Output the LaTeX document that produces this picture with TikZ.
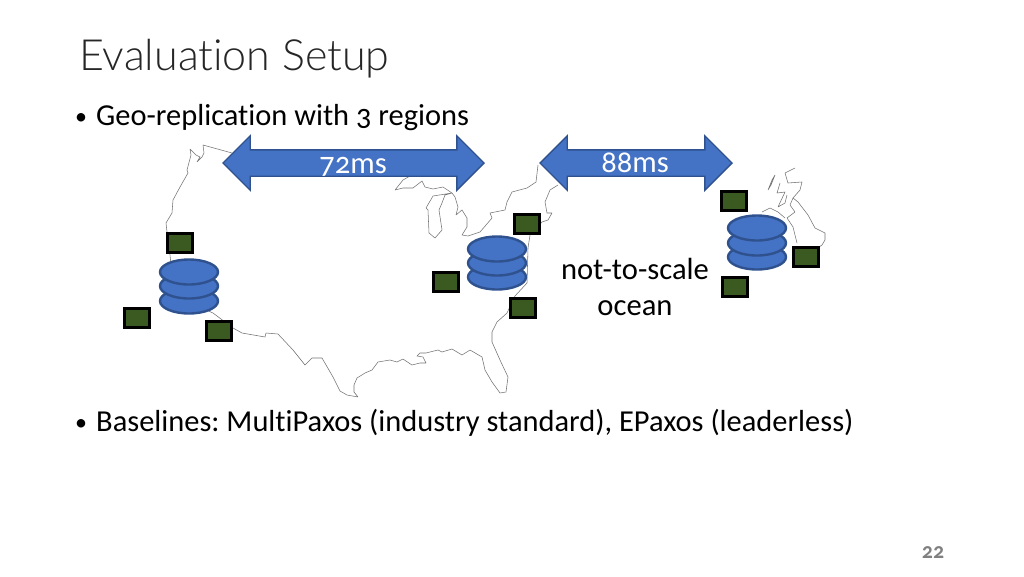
\documentclass[tikz,border=0pt]{standalone}
\usepackage{fontspec}
\setmainfont[Numbers=OldStyle,Ligatures=NoCommon]{Carlito}
\newfontfamily\titlefont[Ligatures=NoCommon]{Lato Light}
\frenchspacing
\usetikzlibrary{ % tikz packages
    positioning,
    shapes.geometric,shapes.arrows
}
\definecolor{diskBlue}{HTML}{4472C4}
\definecolor{diskEdge}{HTML}{2F528F}
\definecolor{hostGreen}{HTML}{3B5A22}
\tikzset{
    disk/.style={draw=diskEdge,fill=diskBlue,line width=2.4pt,ellipse,inner sep=0pt,minimum width=58pt,minimum height=25pt},
    host/.style={draw=black,fill=hostGreen,line width=3.2pt,inner sep=0pt,minimum width=25pt,minimum height=19pt},
    latency/.style={draw=diskEdge,fill=diskBlue,line width=1.4pt,double arrow,double arrow head extend=14pt,double arrow tip angle=90,inner sep=0pt,text height=25pt,text depth=0pt,minimum width=54pt},
    coast/.style={draw=black!55,line width=0.55pt,line join=round},
    body/.style={anchor=base west,inner sep=0pt,font=\fontsize{30.45}{36}\selectfont,text=black},
    speech/.style={anchor=base,inner sep=0pt,font=\fontsize{30.6}{36}\selectfont}
}

\begin{document}
\begin{tikzpicture}[x=1pt,y=-1pt]
        \useasboundingbox (0,0) rectangle (1024,576);

        \node[anchor=base west,inner sep=0pt,text=black!85,font=\fontsize{43}{52}\titlefont] (title) at (79,70) {Evaluation Setup};
        \node[body,font=\fontsize{24}{30}\selectfont] (bulletA) at (75,124) {\textbullet};
        \node[body] (geo) at (96,125) {Geo-replication with 3 regions};
        \node[body,font=\fontsize{24}{30}\selectfont] (bulletB) at (75,430) {\textbullet};
        \node[body] (base) at (96,431) {Baselines: MultiPaxos (industry standard), EPaxos (leaderless)};
        \node[anchor=base,inner sep=0pt,text=black!50,font=\fontsize{22}{26}\selectfont\bfseries] (page) at (933,558) {22};

        % mainland
        \draw[coast] (232,153) -- (203,145) -- (204,153) -- (202,157) -- (197,162) -- (200,157) -- (196,155) -- (190,149)
            -- (191,155) -- (187,170) -- (188,173) -- (180,187) -- (173,200) -- (172,213) -- (166,223) -- (167,232)
            -- (170,255) -- (172,275) -- (195,305) -- (213,313) -- (233,328) -- (242,333) -- (265,337) -- (266,333)
            -- (278,334) -- (293,350) -- (305,365) -- (312,358) -- (322,358) -- (333,377) -- (340,391) -- (347,395)
            -- (358,397) -- (354,392) -- (354,385) -- (357,378) -- (365,373) -- (372,370) -- (378,362) -- (390,360)
            -- (397,362) -- (403,359) -- (412,365) -- (420,363) -- (426,363) -- (423,357) -- (417,356) -- (420,353)
            -- (426,353) -- (438,350) -- (442,352) -- (452,349) -- (462,355) -- (470,350) -- (482,357) -- (485,370)
            -- (492,382) -- (500,393) -- (506,392) -- (508,377) -- (500,360) -- (492,342) -- (492,332) -- (497,322)
            -- (507,313) -- (515,296) -- (527,283) -- (528,248) -- (530,235) -- (542,222) -- (548,220) -- (552,213)
            -- (547,213) -- (545,202) -- (550,190) -- (558,185);
        % lakes and northern border
        \draw[coast] (410,176) -- (403,180) -- (395,190) -- (403,188) -- (413,188) -- (422,181) -- (425,187) -- (433,189)
            -- (443,187) -- (452,193) -- (445,195) -- (442,203) -- (439,210) -- (442,230) -- (435,238) -- (429,233)
            -- (428,210) -- (426,208) -- (433,196) -- (452,193) -- (455,197) -- (458,207) -- (456,215) -- (462,210)
            -- (467,218) -- (467,227) -- (462,235) -- (468,236) -- (480,232) -- (492,218) -- (490,213) -- (505,210)
            -- (507,202) -- (512,192) -- (527,188) -- (536,182) -- (538,165);
        % britain and ireland
        \draw[coast] (795,168) -- (785,173) -- (788,183) -- (802,182) -- (800,190) -- (793,198) -- (798,202) -- (808,215)
            -- (815,228) -- (825,233) -- (825,240) -- (822,245) -- (815,250);
        \draw[coast] (793,198) -- (790,205) -- (795,212) -- (787,218) -- (793,227) -- (797,243);
        \draw[coast] (762,212) -- (770,208) -- (778,212) -- (785,218);
        \draw[coast] (768,190) -- (772,180) -- (775,175) -- (771,185) -- (768,190);
        \draw[coast] (780,183) -- (777,193) -- (785,192) -- (778,207) -- (785,203) -- (787,195);

        \node[latency,minimum height=261pt] (usArrow) at (353.5,163) {};
        \node[latency,minimum height=192pt] (ukArrow) at (636,163) {};
        \node[speech,text=white] (usLatency) at (353,173) {72ms};
        \node[speech,text=white] (ukLatency) at (635,172) {88ms};

        \node[disk] (west3) at (189,301) {};
        \node[disk] (west2) at (189,286) {};
        \node[disk] (west1) at (189,272) {};
        \node[disk] (east3) at (497,277) {};
        \node[disk] (east2) at (497,263) {};
        \node[disk] (east1) at (497,249) {};
        \node[disk] (ukDb3) at (757,257) {};
        \node[disk] (ukDb2) at (757,243) {};
        \node[disk] (ukDb1) at (757,228) {};

        \node[host] (westA) at (180,243) {};
        \node[host] (westB) at (137,318) {};
        \node[host] (westC) at (219,331) {};
        \node[host] (eastA) at (527,224) {};
        \node[host] (eastB) at (446,282) {};
        \node[host] (eastC) at (523,308) {};
        \node[host] (ukA) at (734,201) {};
        \node[host] (ukB) at (806,257) {};
        \node[host] (ukC) at (735,287) {};

        \node[speech] (scale) at (635,279) {not-to-scale};
        \node[speech] (ocean) at (635,315) {ocean};
    \end{tikzpicture}
\end{document}
